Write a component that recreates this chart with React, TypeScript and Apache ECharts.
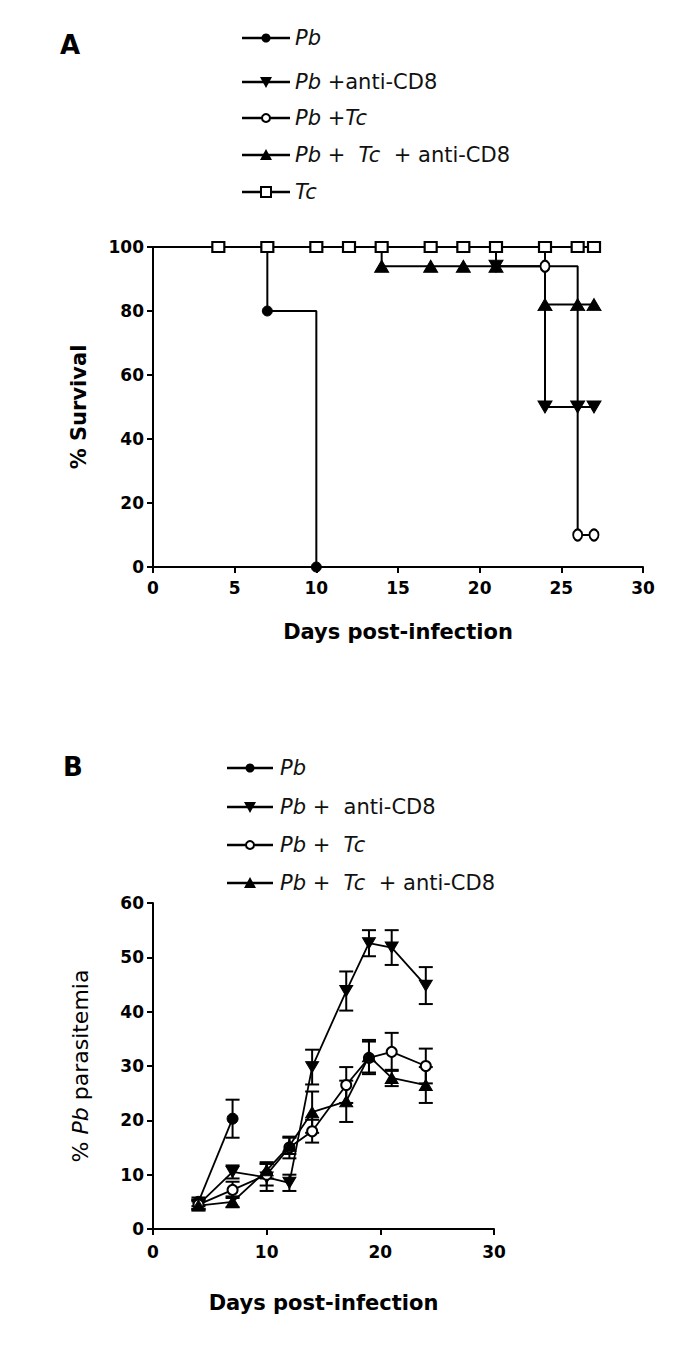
import React, { useEffect, useRef } from "react";
import * as echarts from "echarts";

// ---------- Panel A: survival (Kaplan-Meier steps) ----------
const pbSurvDays = [0, 7, 10];
const pbSurv = [100, 80, 0];
const pbCD8SurvDays = [0, 21, 24, 26, 27];
const pbCD8Surv = [100, 94, 50, 50, 50];
const pbTcSurvDays = [0, 24, 26, 27];
const pbTcSurv = [100, 94, 10, 10];
const pbTcCD8SurvDays = [0, 14, 17, 19, 21, 24, 26, 27];
const pbTcCD8Surv = [100, 94, 94, 94, 94, 82, 82, 82];
const tcSurvDays = [0, 4, 7, 10, 12, 14, 17, 19, 21, 24, 26, 27];
const tcSurv = [100, 100, 100, 100, 100, 100, 100, 100, 100, 100, 100, 100];

// ---------- Panel B: parasitemia (mean ± error) ----------
const pbParaDays = [4, 7];
const pbPara = [5, 20.3];
const pbParaErr = [0.8, 3.5];
const paraDays = [4, 7, 10, 12, 14, 17, 19, 21, 24];
const pbCD8Para = [4.5, 10.5, 9.5, 8.5, 29.8, 43.8, 52.6, 51.8, 44.8];
const pbCD8ParaErr = [0.8, 1.2, 2.5, 1.5, 3.2, 3.6, 2.4, 3.2, 3.4];
const pbTcPara = [4.5, 7.2, 10, 15, 18, 26.5, 31.5, 32.6, 30];
const pbTcParaErr = [0.8, 1.5, 2, 2, 2.1, 3.3, 3, 3.5, 3.2];
const pbTcCD8Para = [4.3, 5, 10.8, 15.3, 21.5, 23.5, 31.8, 27.8, 26.5];
const pbTcCD8ParaErr = [0.8, 1, 1.5, 1.5, 3.8, 3.8, 3, 1.5, 3.3];

const xTicksA = { min: 0, max: 30, interval: 5 };
const yTicksA = { min: 0, max: 100, interval: 20 };
const xTicksB = { min: 0, max: 30, interval: 10 };
const yTicksB = { min: 0, max: 60, interval: 10 };

const FONT = "DejaVu Sans";

function kmData(days: number[], vals: number[]) {
  return days.map((d, i) =>
    i === 0 ? { value: [d, vals[i]], symbol: "none" } : { value: [d, vals[i]] }
  );
}

function errData(days: number[], vals: number[], errs: number[]) {
  return days.map((d, i) => [d, vals[i] - errs[i], vals[i] + errs[i]]);
}

const filled = { color: "#000", borderColor: "#000", borderWidth: 1 };
const open = { color: "#fff", borderColor: "#000", borderWidth: 2 };

function lineSeries(
  name: string,
  data: any[],
  idx: number,
  symbol: string,
  size: any,
  item: any,
  rotate: number,
  step: boolean,
  lw: number,
  z: number
) {
  return {
    name,
    type: "line",
    xAxisIndex: idx,
    yAxisIndex: idx,
    data,
    step: step ? "end" : false,
    symbol,
    symbolSize: size,
    symbolRotate: rotate,
    showSymbol: true,
    showAllSymbol: true,
    itemStyle: item,
    lineStyle: { color: "#000", width: lw },
    z,
  };
}

function errSeries(data: number[][], idx: number) {
  return {
    type: "custom",
    xAxisIndex: idx,
    yAxisIndex: idx,
    data,
    z: 1,
    renderItem: (params: any, api: any) => {
      const x = api.value(0);
      const lo = api.coord([x, api.value(1)]);
      const hi = api.coord([x, api.value(2)]);
      const cap = 7;
      const st = { stroke: "#000", lineWidth: 2 };
      return {
        type: "group",
        children: [
          { type: "line", shape: { x1: lo[0], y1: lo[1], x2: hi[0], y2: hi[1] }, style: st },
          { type: "line", shape: { x1: lo[0] - cap, y1: lo[1], x2: lo[0] + cap, y2: lo[1] }, style: st },
          { type: "line", shape: { x1: hi[0] - cap, y1: hi[1], x2: hi[0] + cap, y2: hi[1] }, style: st },
        ],
      };
    },
  };
}

function legendMarker(kind: string, cx: number, cy: number) {
  if (kind === "dot") {
    return { type: "circle", shape: { cx, cy, r: 4.5 }, style: { fill: "#000" } };
  }
  if (kind === "ocircle") {
    return { type: "circle", shape: { cx, cy, r: 4 }, style: { fill: "#fff", stroke: "#000", lineWidth: 2 } };
  }
  if (kind === "osquare") {
    return { type: "rect", shape: { x: cx - 5, y: cy - 5, width: 10, height: 10 }, style: { fill: "#fff", stroke: "#000", lineWidth: 2 } };
  }
  if (kind === "tri") {
    return { type: "polygon", shape: { points: [[cx - 6, cy + 5], [cx + 6, cy + 5], [cx, cy - 6]] }, style: { fill: "#000" } };
  }
  return { type: "polygon", shape: { points: [[cx - 6, cy - 5], [cx + 6, cy - 5], [cx, cy + 6]] }, style: { fill: "#000" } };
}

function legendItem(x0: number, x1: number, tx: number, y: number, kind: string, text: string) {
  return [
    { type: "line", shape: { x1: x0, y1: y, x2: x1, y2: y }, style: { stroke: "#000", lineWidth: 2.5 } },
    legendMarker(kind, (x0 + x1) / 2, y),
    {
      type: "text",
      x: tx,
      y,
      style: {
        text,
        fontFamily: FONT,
        fontSize: 21,
        fill: "#111",
        verticalAlign: "middle",
        align: "left",
        rich: {
          i: { fontFamily: FONT, fontSize: 21, fontStyle: "italic", fill: "#111" },
        },
      },
    },
  ];
}

const legendA = [
  { kind: "dot", text: "{i|Pb}" },
  { kind: "inv", text: "{i|Pb} +anti-CD8" },
  { kind: "ocircle", text: "{i|Pb} +{i|Tc}" },
  { kind: "tri", text: "{i|Pb} +  {i|Tc}  + anti-CD8" },
  { kind: "osquare", text: "{i|Tc}" },
];
const legendARows = [38, 82, 118, 155, 192];
const legendB = [
  { kind: "dot", text: "{i|Pb}" },
  { kind: "inv", text: "{i|Pb} +  anti-CD8" },
  { kind: "ocircle", text: "{i|Pb} +  {i|Tc}" },
  { kind: "tri", text: "{i|Pb} +  {i|Tc}  + anti-CD8" },
];
const legendBRows = [768, 807, 845, 883];

function axisCommon(tickLen: number) {
  return {
    axisLine: { show: true, onZero: false, lineStyle: { color: "#000", width: 2 } },
    axisTick: { show: true, length: tickLen, lineStyle: { color: "#000", width: 2 } },
    splitLine: { show: false },
  };
}

const tickLabel = (margin: number) => ({
  color: "#000",
  fontFamily: FONT,
  fontWeight: "bold",
  fontSize: 17,
  margin,
});

export default function App() {
  const ref = useRef<HTMLDivElement>(null);
  useEffect(() => {
    if (!ref.current) return;
    const chart = echarts.init(ref.current, undefined, { renderer: "svg" });
    const graphics: any[] = [
      { type: "text", x: 60, y: 45, style: { text: "A", fontFamily: FONT, fontWeight: "bold", fontSize: 26, fill: "#000", verticalAlign: "middle" } },
      { type: "text", x: 63, y: 767, style: { text: "B", fontFamily: FONT, fontWeight: "bold", fontSize: 26, fill: "#000", verticalAlign: "middle" } },
    ];
    legendA.forEach((l, i) => graphics.push(...legendItem(242, 290, 295, legendARows[i], l.kind, l.text)));
    legendB.forEach((l, i) => graphics.push(...legendItem(227, 273, 280, legendBRows[i], l.kind, l.text)));

    const option: any = {
      animation: false,
      backgroundColor: "#fff",
      grid: [
        { left: 153, top: 247, width: 490, height: 320 },
        { left: 153, top: 903, width: 341, height: 326 },
      ],
      xAxis: [
        {
          type: "value",
          gridIndex: 0,
          ...xTicksA,
          ...axisCommon(6),
          axisLabel: tickLabel(12),
          name: "Days post-infection",
          nameLocation: "middle",
          nameGap: 54,
          nameTextStyle: { color: "#000", fontFamily: FONT, fontWeight: "bold", fontSize: 21 },
        },
        {
          type: "value",
          gridIndex: 1,
          ...xTicksB,
          ...axisCommon(6),
          axisLabel: tickLabel(14),
          name: "Days post-infection",
          nameLocation: "middle",
          nameGap: 63,
          nameTextStyle: { color: "#000", fontFamily: FONT, fontWeight: "bold", fontSize: 21 },
        },
      ],
      yAxis: [
        {
          type: "value",
          gridIndex: 0,
          ...yTicksA,
          ...axisCommon(6),
          axisLabel: tickLabel(9),
          name: "% Survival",
          nameLocation: "middle",
          nameGap: 64,
          nameTextStyle: { color: "#000", fontFamily: FONT, fontWeight: "bold", fontSize: 21 },
        },
        {
          type: "value",
          gridIndex: 1,
          ...yTicksB,
          ...axisCommon(6),
          axisLabel: tickLabel(9),
          name: "% {i|Pb} parasitemia",
          nameLocation: "middle",
          nameGap: 62,
          nameTextStyle: {
            color: "#000",
            fontFamily: FONT,
            fontSize: 22,
            rich: { i: { fontFamily: FONT, fontSize: 22, fontStyle: "italic", color: "#000" } },
          },
        },
      ],
      series: [
        lineSeries("Pb", kmData(pbSurvDays, pbSurv), 0, "circle", 10, filled, 0, true, 2, 3),
        lineSeries("Pb +anti-CD8", kmData(pbCD8SurvDays, pbCD8Surv), 0, "triangle", [14, 12], filled, 180, true, 2, 3),
        lineSeries("Pb +Tc", kmData(pbTcSurvDays, pbTcSurv), 0, "circle", [9, 11], open, 0, true, 2, 4),
        lineSeries("Pb + Tc + anti-CD8", kmData(pbTcCD8SurvDays, pbTcCD8Surv), 0, "triangle", [14, 12], filled, 0, true, 2, 3),
        lineSeries("Tc", kmData(tcSurvDays, tcSurv), 0, "rect", [12, 10], open, 0, true, 2, 5),

        errSeries(errData(pbParaDays, pbPara, pbParaErr), 1),
        errSeries(errData(paraDays, pbCD8Para, pbCD8ParaErr), 1),
        errSeries(errData(paraDays, pbTcPara, pbTcParaErr), 1),
        errSeries(errData(paraDays, pbTcCD8Para, pbTcCD8ParaErr), 1),
        lineSeries("B Pb", pbParaDays.map((d, i) => [d, pbPara[i]]), 1, "circle", 11, filled, 0, false, 1.8, 3),
        lineSeries("B Pb + anti-CD8", paraDays.map((d, i) => [d, pbCD8Para[i]]), 1, "triangle", [13, 11], filled, 180, false, 1.8, 3),
        lineSeries("B Pb + Tc", paraDays.map((d, i) => [d, pbTcPara[i]]), 1, "circle", 10, open, 0, false, 1.8, 3),
        lineSeries("B Pb + Tc + anti-CD8", paraDays.map((d, i) => [d, pbTcCD8Para[i]]), 1, "triangle", [13, 11], filled, 0, false, 1.8, 3),
      ],
      graphic: graphics,
    };
    chart.setOption(option);
    return () => chart.dispose();
  }, []);
  return (
    <div
      ref={ref}
      style={{ position: "absolute", left: 0, top: 0, width: 685, height: 1346, background: "#fff" }}
    />
  );
}
